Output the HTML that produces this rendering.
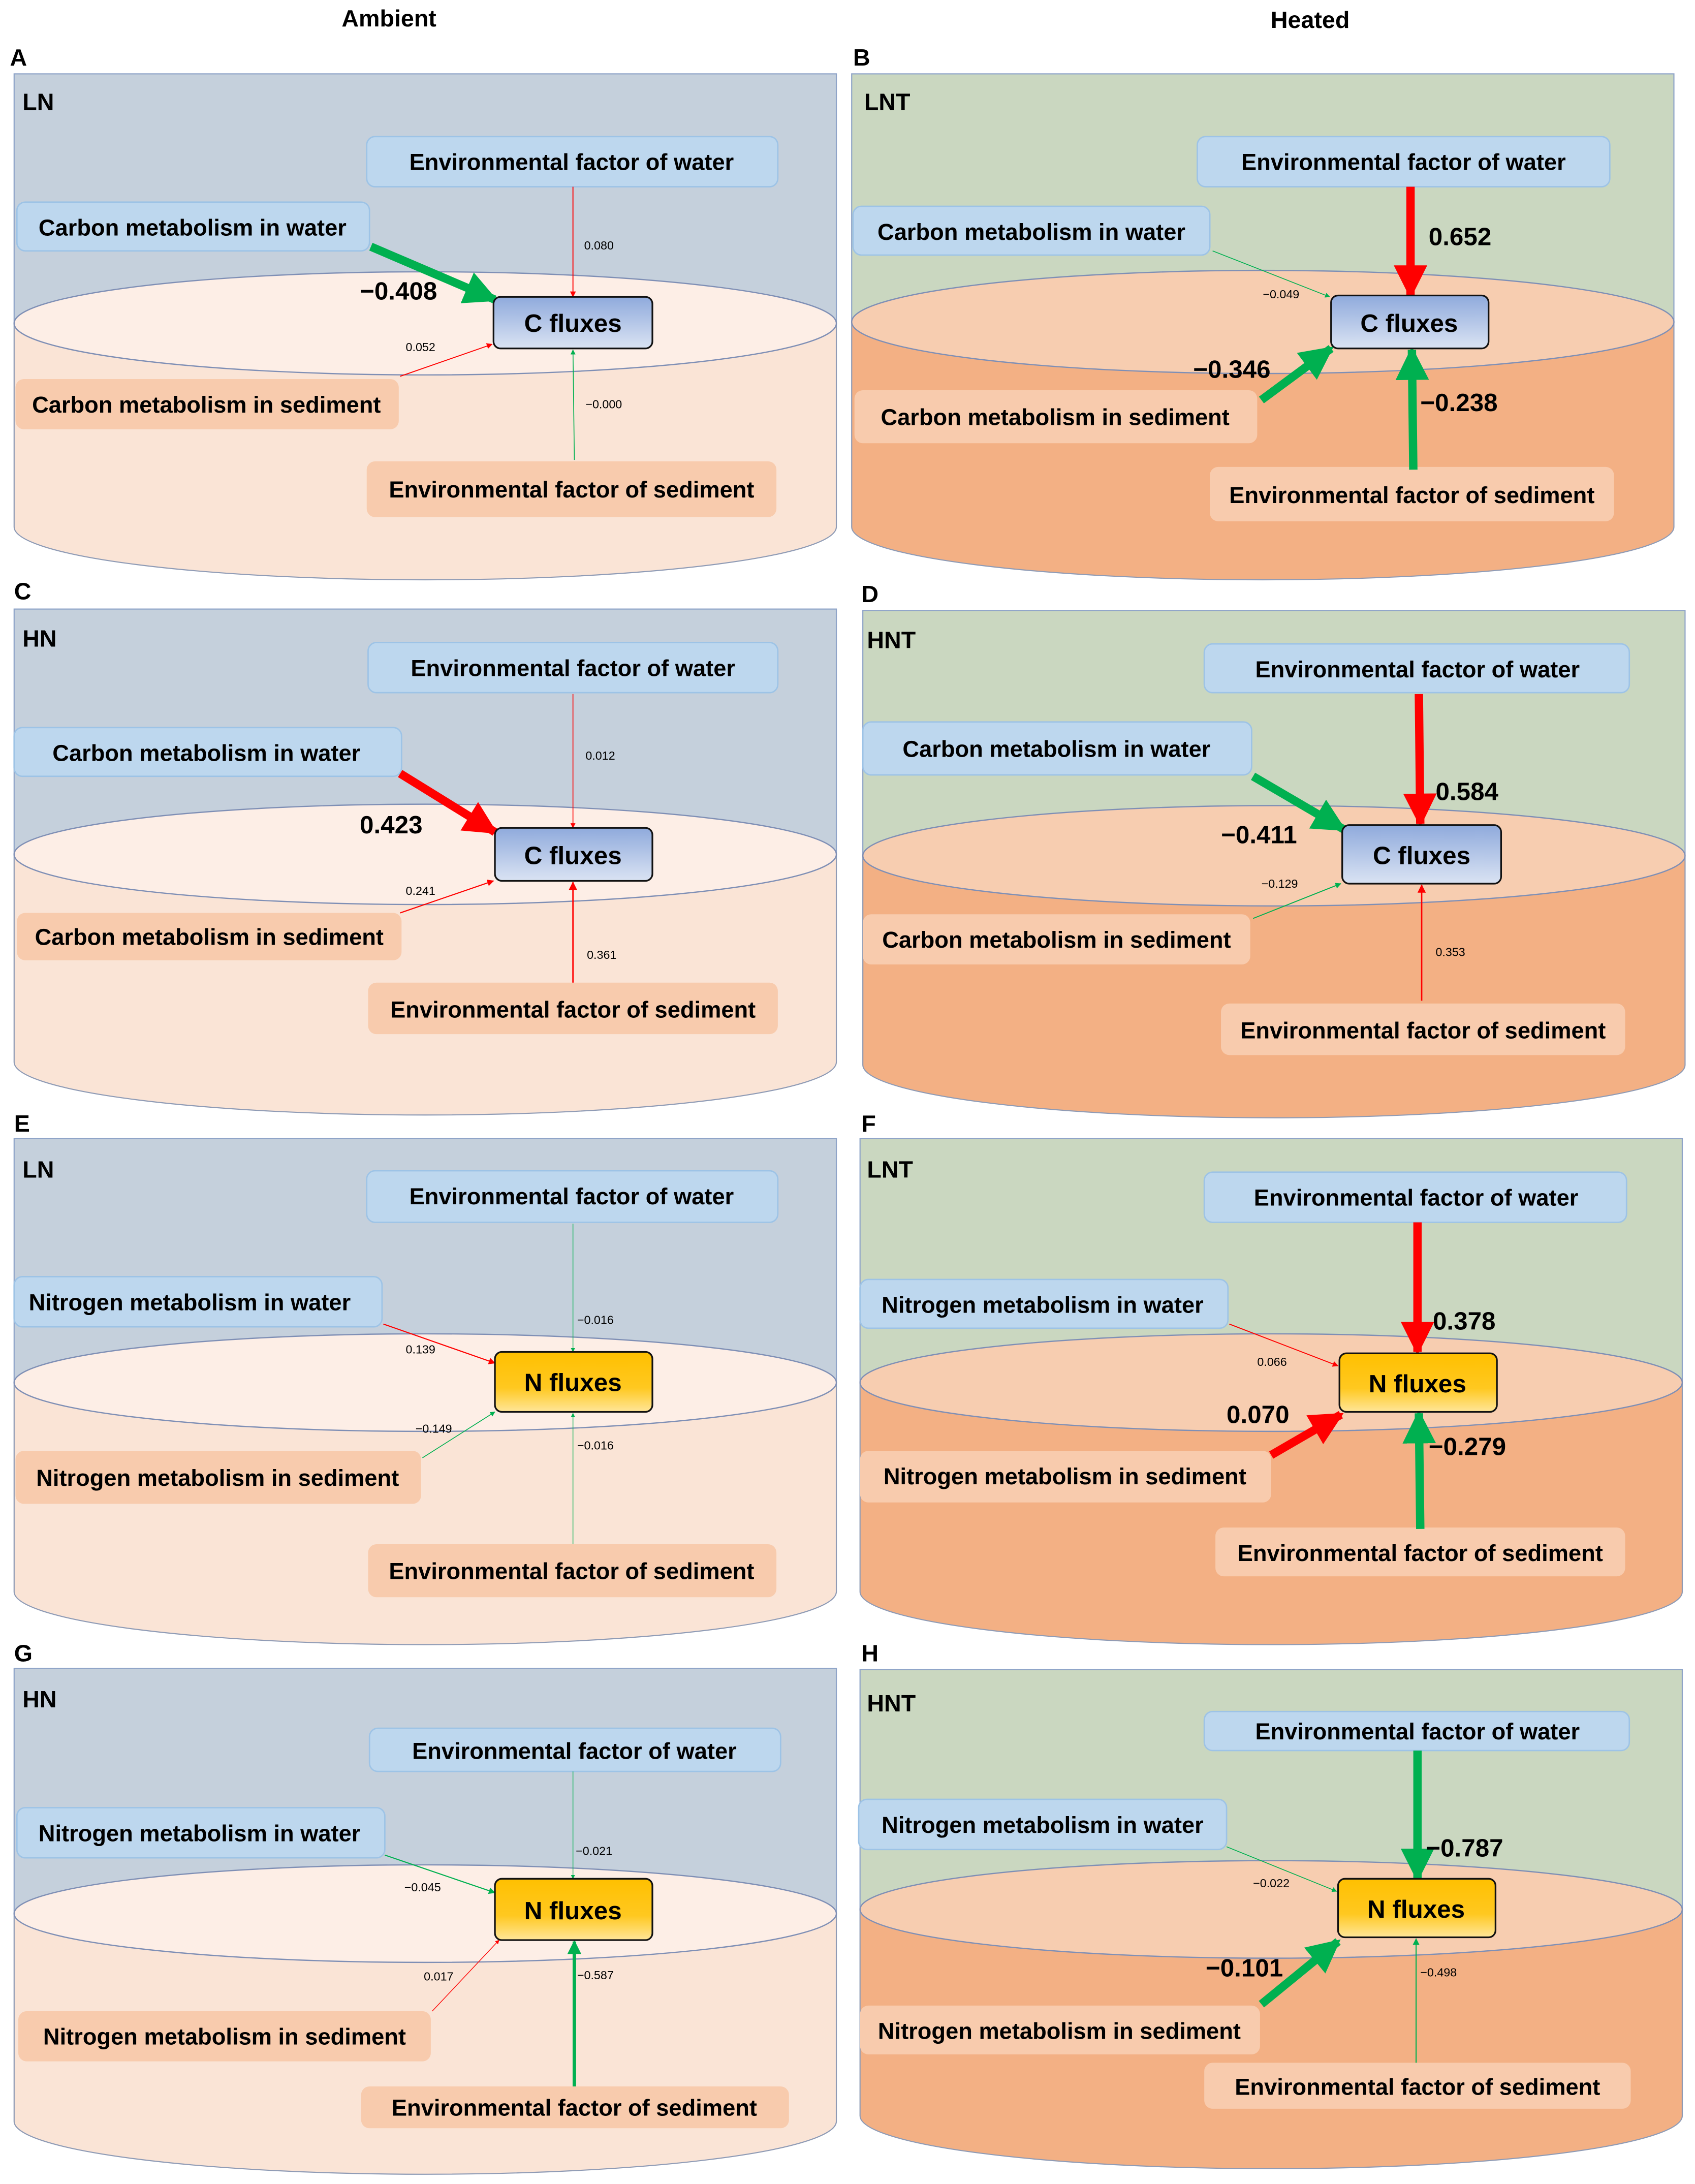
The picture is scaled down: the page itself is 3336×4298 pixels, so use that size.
<!DOCTYPE html>
<html><head><meta charset="utf-8"><style>
html,body{margin:0;padding:0;background:#fff}
svg{display:block}
text{font-family:"Liberation Sans",Arial,sans-serif;font-weight:bold}
.bt{font-size:16.5px;text-anchor:middle}
.big{font-size:18px}
.sm{font-size:8.5px;font-weight:normal}
.pl{font-size:17px}
</style></head><body>
<svg width="3336" height="4298" viewBox="0 0 1216 1567" xmlns="http://www.w3.org/2000/svg">
<defs>
<marker id="mr" markerWidth="4" markerHeight="4" refX="3.6" refY="2" orient="auto" markerUnits="strokeWidth"><path d="M0,0 L4,2 L0,4 z" fill="#ff0000"/></marker>
<marker id="mg" markerWidth="4" markerHeight="4" refX="3.6" refY="2" orient="auto" markerUnits="strokeWidth"><path d="M0,0 L4,2 L0,4 z" fill="#00b050"/></marker>
<marker id="mrs" markerWidth="6" markerHeight="6" refX="5.5" refY="3" orient="auto" markerUnits="strokeWidth"><path d="M0,0 L6,3 L0,6 z" fill="#ff0000"/></marker>
<marker id="mgs" markerWidth="6" markerHeight="6" refX="5.5" refY="3" orient="auto" markerUnits="strokeWidth"><path d="M0,0 L6,3 L0,6 z" fill="#00b050"/></marker>
<linearGradient id="gc" x1="0" y1="0" x2="0" y2="1"><stop offset="0" stop-color="#8faadc"/><stop offset="1" stop-color="#dae3f3"/></linearGradient>
<linearGradient id="gn" x1="0" y1="0" x2="0" y2="1"><stop offset="0" stop-color="#ffc000"/><stop offset="0.6" stop-color="#ffc820"/><stop offset="1" stop-color="#ffe699"/></linearGradient>
</defs>
<rect width="1216" height="1567" fill="#fff"/>
<text x="279" y="19" class="pl" text-anchor="middle">Ambient</text>
<text x="940" y="20" class="pl" text-anchor="middle">Heated</text>

<!-- Panel A -->
<text x="7" y="47" class="pl">A</text>
<rect x="10" y="53" width="590" height="179" fill="#c5d0dc" stroke="#8fa4c8" stroke-width="0.8"/>
<path d="M10,232 L10,378 A295,38 0 0 0 600,378 L600,232 Z" fill="#fae4d6" stroke="#8f9bb5" stroke-width="0.8"/>
<ellipse cx="305" cy="232" rx="295" ry="37" fill="#fdeee6" stroke="#7f8fb5" stroke-width="0.9"/>
<text x="16" y="79" class="pl">LN</text>
<rect x="263" y="98" width="295" height="36" rx="6" fill="#bdd7ee" stroke="#9dc3e6"/>
<text x="410" y="122" class="bt">Environmental factor of water</text>
<rect x="12" y="145" width="253" height="35" rx="6" fill="#bdd7ee" stroke="#9dc3e6"/>
<text x="138" y="169" class="bt">Carbon metabolism in water</text>
<rect x="11" y="272" width="275" height="36" rx="6" fill="#f8cbad"/>
<text x="148" y="296" class="bt">Carbon metabolism in sediment</text>
<rect x="263" y="331" width="294" height="40" rx="6" fill="#f8cbad"/>
<text x="410" y="357" class="bt">Environmental factor of sediment</text>
<line x1="411" y1="134" x2="411" y2="213" stroke="#ff0000" stroke-width="0.7" marker-end="url(#mrs)"/>
<line x1="287" y1="270" x2="353" y2="247" stroke="#ff0000" stroke-width="0.7" marker-end="url(#mrs)"/>
<line x1="412" y1="330" x2="411" y2="251" stroke="#00b050" stroke-width="0.6" marker-end="url(#mgs)"/>
<line x1="266" y1="177" x2="355" y2="215" stroke="#00b050" stroke-width="6" marker-end="url(#mg)"/>
<rect x="354" y="213" width="114" height="37" rx="5" fill="url(#gc)" stroke="#111" stroke-width="1.2"/>
<text x="411" y="238" class="bt" style="font-size:18px">C fluxes</text>
<text x="258" y="215" class="big">−0.408</text>
<text x="419" y="179" class="sm">0.080</text>
<text x="291" y="252" class="sm">0.052</text>
<text x="420" y="293" class="sm">−0.000</text>

<!-- Panel B -->
<text x="612" y="47" class="pl">B</text>
<rect x="611" y="53" width="590" height="178" fill="#cad7c0" stroke="#8fa4c8" stroke-width="0.8"/>
<path d="M611,231 L611,378 A295,38 0 0 0 1201,378 L1201,231 Z" fill="#f3b084" stroke="#8f9bb5" stroke-width="0.8"/>
<ellipse cx="906" cy="231" rx="295" ry="37" fill="#f7cdb0" stroke="#7f8fb5" stroke-width="0.9"/>
<text x="620" y="79" class="pl">LNT</text>
<rect x="859" y="98" width="296" height="36" rx="6" fill="#bdd7ee" stroke="#9dc3e6"/>
<text x="1007" y="122" class="bt">Environmental factor of water</text>
<rect x="612" y="148" width="256" height="35" rx="6" fill="#bdd7ee" stroke="#9dc3e6"/>
<text x="740" y="172" class="bt">Carbon metabolism in water</text>
<rect x="613" y="280" width="289" height="38" rx="6" fill="#f8cbad"/>
<text x="757" y="305" class="bt">Carbon metabolism in sediment</text>
<rect x="868" y="335" width="290" height="39" rx="6" fill="#f8cbad"/>
<text x="1013" y="361" class="bt">Environmental factor of sediment</text>
<line x1="870" y1="180" x2="954" y2="213" stroke="#00b050" stroke-width="0.6" marker-end="url(#mgs)"/>
<line x1="1012" y1="134" x2="1012" y2="212" stroke="#ff0000" stroke-width="6" marker-end="url(#mr)"/>
<line x1="905" y1="287" x2="955" y2="250" stroke="#00b050" stroke-width="6" marker-end="url(#mg)"/>
<line x1="1014" y1="337" x2="1013" y2="251" stroke="#00b050" stroke-width="6" marker-end="url(#mg)"/>
<rect x="955" y="212" width="113" height="38" rx="5" fill="url(#gc)" stroke="#111" stroke-width="1.2"/>
<text x="1011" y="238" class="bt" style="font-size:18px">C fluxes</text>
<text x="1025" y="176" class="big">0.652</text>
<text x="906" y="214" class="sm">−0.049</text>
<text x="856" y="271" class="big">−0.346</text>
<text x="1019" y="295" class="big">−0.238</text>

<!-- Panel C -->
<text x="10" y="430" class="pl">C</text>
<rect x="10" y="437" width="590" height="176" fill="#c5d0dc" stroke="#8fa4c8" stroke-width="0.8"/>
<path d="M10,613 L10,762 A295,38 0 0 0 600,762 L600,613 Z" fill="#fae4d6" stroke="#8f9bb5" stroke-width="0.8"/>
<ellipse cx="305" cy="613" rx="295" ry="36" fill="#fdeee6" stroke="#7f8fb5" stroke-width="0.9"/>
<text x="16" y="464" class="pl">HN</text>
<rect x="264" y="461" width="294" height="36" rx="6" fill="#bdd7ee" stroke="#9dc3e6"/>
<text x="411" y="485" class="bt">Environmental factor of water</text>
<rect x="10" y="522" width="278" height="35" rx="6" fill="#bdd7ee" stroke="#9dc3e6"/>
<text x="148" y="546" class="bt">Carbon metabolism in water</text>
<rect x="12" y="655" width="276" height="34" rx="6" fill="#f8cbad"/>
<text x="150" y="678" class="bt">Carbon metabolism in sediment</text>
<rect x="264" y="705" width="294" height="37" rx="6" fill="#f8cbad"/>
<text x="411" y="730" class="bt">Environmental factor of sediment</text>
<line x1="411" y1="498" x2="411" y2="594" stroke="#ff0000" stroke-width="0.6" marker-end="url(#mrs)"/>
<line x1="287" y1="655" x2="354" y2="632" stroke="#ff0000" stroke-width="0.8" marker-end="url(#mrs)"/>
<line x1="411" y1="705" x2="411" y2="633" stroke="#ff0000" stroke-width="1" marker-end="url(#mrs)"/>
<line x1="287" y1="555" x2="355" y2="597" stroke="#ff0000" stroke-width="6" marker-end="url(#mr)"/>
<rect x="355" y="594" width="113" height="38" rx="5" fill="url(#gc)" stroke="#111" stroke-width="1.2"/>
<text x="411" y="620" class="bt" style="font-size:18px">C fluxes</text>
<text x="258" y="598" class="big">0.423</text>
<text x="420" y="545" class="sm">0.012</text>
<text x="291" y="642" class="sm">0.241</text>
<text x="421" y="688" class="sm">0.361</text>

<!-- Panel D -->
<text x="618" y="432" class="pl">D</text>
<rect x="619" y="438" width="590" height="176" fill="#cad7c0" stroke="#8fa4c8" stroke-width="0.8"/>
<path d="M619,614 L619,764 A295,38 0 0 0 1209,764 L1209,614 Z" fill="#f3b084" stroke="#8f9bb5" stroke-width="0.8"/>
<ellipse cx="914" cy="614" rx="295" ry="36" fill="#f7cdb0" stroke="#7f8fb5" stroke-width="0.9"/>
<text x="622" y="465" class="pl">HNT</text>
<rect x="864" y="462" width="305" height="35" rx="6" fill="#bdd7ee" stroke="#9dc3e6"/>
<text x="1017" y="486" class="bt">Environmental factor of water</text>
<rect x="619" y="518" width="279" height="38" rx="6" fill="#bdd7ee" stroke="#9dc3e6"/>
<text x="758" y="543" class="bt">Carbon metabolism in water</text>
<rect x="619" y="656" width="278" height="36" rx="6" fill="#f8cbad"/>
<text x="758" y="680" class="bt">Carbon metabolism in sediment</text>
<rect x="876" y="720" width="290" height="37" rx="6" fill="#f8cbad"/>
<text x="1021" y="745" class="bt">Environmental factor of sediment</text>
<line x1="899" y1="659" x2="962" y2="634" stroke="#00b050" stroke-width="0.7" marker-end="url(#mgs)"/>
<line x1="1020" y1="718" x2="1020" y2="635" stroke="#ff0000" stroke-width="1" marker-end="url(#mrs)"/>
<line x1="1018" y1="498" x2="1019" y2="591" stroke="#ff0000" stroke-width="6" marker-end="url(#mr)"/>
<line x1="899" y1="557" x2="964" y2="595" stroke="#00b050" stroke-width="6" marker-end="url(#mg)"/>
<rect x="963" y="592" width="114" height="42" rx="5" fill="url(#gc)" stroke="#111" stroke-width="1.2"/>
<text x="1020" y="620" class="bt" style="font-size:18px">C fluxes</text>
<text x="1030" y="574" class="big">0.584</text>
<text x="876" y="605" class="big">−0.411</text>
<text x="905" y="637" class="sm">−0.129</text>
<text x="1030" y="686" class="sm">0.353</text>

<!-- Panel E -->
<text x="10" y="812" class="pl">E</text>
<rect x="10" y="817" width="590" height="175" fill="#c5d0dc" stroke="#8fa4c8" stroke-width="0.8"/>
<path d="M10,992 L10,1142 A295,38 0 0 0 600,1142 L600,992 Z" fill="#fae4d6" stroke="#8f9bb5" stroke-width="0.8"/>
<ellipse cx="305" cy="992" rx="295" ry="35" fill="#fdeee6" stroke="#7f8fb5" stroke-width="0.9"/>
<text x="16" y="845" class="pl">LN</text>
<rect x="263" y="840" width="295" height="37" rx="6" fill="#bdd7ee" stroke="#9dc3e6"/>
<text x="410" y="864" class="bt">Environmental factor of water</text>
<rect x="10" y="916" width="264" height="36" rx="6" fill="#bdd7ee" stroke="#9dc3e6"/>
<text x="136" y="940" class="bt">Nitrogen metabolism in water</text>
<rect x="11" y="1041" width="291" height="38" rx="6" fill="#f8cbad"/>
<text x="156" y="1066" class="bt">Nitrogen metabolism in sediment</text>
<rect x="264" y="1108" width="293" height="38" rx="6" fill="#f8cbad"/>
<text x="410" y="1133" class="bt">Environmental factor of sediment</text>
<line x1="275" y1="950" x2="355" y2="978" stroke="#ff0000" stroke-width="0.8" marker-end="url(#mrs)"/>
<line x1="411" y1="878" x2="411" y2="970" stroke="#00b050" stroke-width="0.5" marker-end="url(#mgs)"/>
<line x1="303" y1="1046" x2="355" y2="1013" stroke="#00b050" stroke-width="0.6" marker-end="url(#mgs)"/>
<line x1="411" y1="1108" x2="411" y2="1014" stroke="#00b050" stroke-width="0.5" marker-end="url(#mgs)"/>
<rect x="355" y="970" width="113" height="43" rx="5" fill="url(#gn)" stroke="#111" stroke-width="1.2"/>
<text x="411" y="998" class="bt" style="font-size:18px">N fluxes</text>
<text x="291" y="971" class="sm">0.139</text>
<text x="414" y="950" class="sm">−0.016</text>
<text x="298" y="1028" class="sm">−0.149</text>
<text x="414" y="1040" class="sm">−0.016</text>

<!-- Panel F -->
<text x="618" y="812" class="pl">F</text>
<rect x="617" y="817" width="590" height="175" fill="#cad7c0" stroke="#8fa4c8" stroke-width="0.8"/>
<path d="M617,992 L617,1142 A295,38 0 0 0 1207,1142 L1207,992 Z" fill="#f3b084" stroke="#8f9bb5" stroke-width="0.8"/>
<ellipse cx="912" cy="992" rx="295" ry="35" fill="#f7cdb0" stroke="#7f8fb5" stroke-width="0.9"/>
<text x="622" y="845" class="pl">LNT</text>
<rect x="864" y="841" width="303" height="36" rx="6" fill="#bdd7ee" stroke="#9dc3e6"/>
<text x="1016" y="865" class="bt">Environmental factor of water</text>
<rect x="617" y="918" width="264" height="35" rx="6" fill="#bdd7ee" stroke="#9dc3e6"/>
<text x="748" y="942" class="bt">Nitrogen metabolism in water</text>
<rect x="617" y="1041" width="295" height="37" rx="6" fill="#f8cbad"/>
<text x="764" y="1065" class="bt">Nitrogen metabolism in sediment</text>
<rect x="872" y="1096" width="294" height="35" rx="6" fill="#f8cbad"/>
<text x="1019" y="1120" class="bt">Environmental factor of sediment</text>
<line x1="882" y1="950" x2="960" y2="980" stroke="#ff0000" stroke-width="0.7" marker-end="url(#mrs)"/>
<line x1="1017" y1="877" x2="1017" y2="970" stroke="#ff0000" stroke-width="6" marker-end="url(#mr)"/>
<line x1="912" y1="1044" x2="962" y2="1015" stroke="#ff0000" stroke-width="6" marker-end="url(#mr)"/>
<line x1="1019" y1="1097" x2="1018" y2="1014" stroke="#00b050" stroke-width="6" marker-end="url(#mg)"/>
<rect x="961" y="971" width="113" height="42" rx="5" fill="url(#gn)" stroke="#111" stroke-width="1.2"/>
<text x="1017" y="999" class="bt" style="font-size:18px">N fluxes</text>
<text x="1028" y="954" class="big">0.378</text>
<text x="902" y="980" class="sm">0.066</text>
<text x="880" y="1021" class="big">0.070</text>
<text x="1025" y="1044" class="big">−0.279</text>

<!-- Panel G -->
<text x="10" y="1192" class="pl">G</text>
<rect x="10" y="1197" width="590" height="176" fill="#c5d0dc" stroke="#8fa4c8" stroke-width="0.8"/>
<path d="M10,1373 L10,1522 A295,38 0 0 0 600,1522 L600,1373 Z" fill="#fae4d6" stroke="#8f9bb5" stroke-width="0.8"/>
<ellipse cx="305" cy="1373" rx="295" ry="35" fill="#fdeee6" stroke="#7f8fb5" stroke-width="0.9"/>
<text x="16" y="1225" class="pl">HN</text>
<rect x="265" y="1240" width="295" height="31" rx="6" fill="#bdd7ee" stroke="#9dc3e6"/>
<text x="412" y="1262" class="bt">Environmental factor of water</text>
<rect x="12" y="1297" width="264" height="36" rx="6" fill="#bdd7ee" stroke="#9dc3e6"/>
<text x="143" y="1321" class="bt">Nitrogen metabolism in water</text>
<rect x="13" y="1443" width="296" height="36" rx="6" fill="#f8cbad"/>
<text x="161" y="1467" class="bt">Nitrogen metabolism in sediment</text>
<rect x="259" y="1497" width="307" height="30" rx="6" fill="#f8cbad"/>
<text x="412" y="1518" class="bt">Environmental factor of sediment</text>
<line x1="276" y1="1331" x2="355" y2="1358" stroke="#00b050" stroke-width="0.8" marker-end="url(#mgs)"/>
<line x1="411" y1="1271" x2="411" y2="1348" stroke="#00b050" stroke-width="0.5" marker-end="url(#mgs)"/>
<line x1="310" y1="1443" x2="358" y2="1392" stroke="#ff0000" stroke-width="0.5" marker-end="url(#mrs)"/>
<line x1="412" y1="1497" x2="412" y2="1393" stroke="#00b050" stroke-width="2.5" marker-end="url(#mg)"/>
<rect x="355" y="1348" width="113" height="44" rx="5" fill="url(#gn)" stroke="#111" stroke-width="1.2"/>
<text x="411" y="1377" class="bt" style="font-size:18px">N fluxes</text>
<text x="290" y="1357" class="sm">−0.045</text>
<text x="413" y="1331" class="sm">−0.021</text>
<text x="304" y="1421" class="sm">0.017</text>
<text x="414" y="1420" class="sm">−0.587</text>

<!-- Panel H -->
<text x="618" y="1192" class="pl">H</text>
<rect x="617" y="1198" width="590" height="172" fill="#cad7c0" stroke="#8fa4c8" stroke-width="0.8"/>
<path d="M617,1370 L617,1518 A295,38 0 0 0 1207,1518 L1207,1370 Z" fill="#f3b084" stroke="#8f9bb5" stroke-width="0.8"/>
<ellipse cx="912" cy="1370" rx="295" ry="35" fill="#f7cdb0" stroke="#7f8fb5" stroke-width="0.9"/>
<text x="622" y="1228" class="pl">HNT</text>
<rect x="864" y="1228" width="305" height="28" rx="6" fill="#bdd7ee" stroke="#9dc3e6"/>
<text x="1017" y="1248" class="bt">Environmental factor of water</text>
<rect x="616" y="1291" width="264" height="36" rx="6" fill="#bdd7ee" stroke="#9dc3e6"/>
<text x="748" y="1315" class="bt">Nitrogen metabolism in water</text>
<rect x="617" y="1439" width="287" height="35" rx="6" fill="#f8cbad"/>
<text x="760" y="1463" class="bt">Nitrogen metabolism in sediment</text>
<rect x="864" y="1480" width="306" height="33" rx="6" fill="#f8cbad"/>
<text x="1017" y="1503" class="bt">Environmental factor of sediment</text>
<line x1="880" y1="1325" x2="959" y2="1357" stroke="#00b050" stroke-width="0.6" marker-end="url(#mgs)"/>
<line x1="1016" y1="1480" x2="1016" y2="1391" stroke="#00b050" stroke-width="0.8" marker-end="url(#mgs)"/>
<line x1="1017" y1="1256" x2="1017" y2="1348" stroke="#00b050" stroke-width="6" marker-end="url(#mg)"/>
<line x1="905" y1="1438" x2="960" y2="1393" stroke="#00b050" stroke-width="6" marker-end="url(#mg)"/>
<rect x="960" y="1348" width="113" height="42" rx="5" fill="url(#gn)" stroke="#111" stroke-width="1.2"/>
<text x="1016" y="1376" class="bt" style="font-size:18px">N fluxes</text>
<text x="1023" y="1332" class="big">−0.787</text>
<text x="899" y="1354" class="sm">−0.022</text>
<text x="865" y="1418" class="big">−0.101</text>
<text x="1019" y="1418" class="sm">−0.498</text>
</svg>
</body></html>
